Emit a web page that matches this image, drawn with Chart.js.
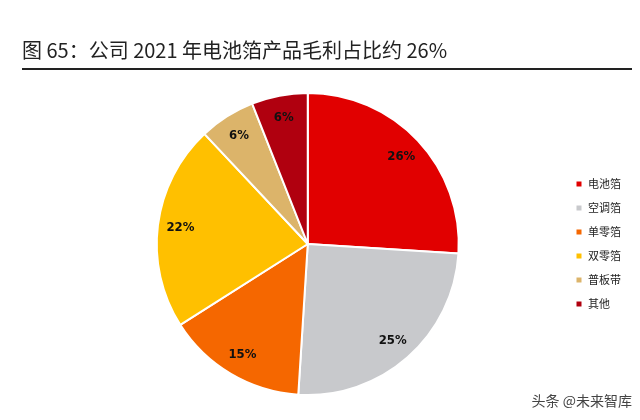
<!DOCTYPE html>
<html>
<head>
<meta charset="utf-8">
<script src="https://cdn.jsdelivr.net/npm/chart.js@4"></script>
<style>
body{margin:0;background:#fff;}
#wrap{width:640px;height:420px;}
</style>
</head>
<body>
<div id="wrap"><canvas id="pie"></canvas></div>
<script>
var titleText = "图 65：公司 2021 年电池箔产品毛利占比约 26%";
var sourceText = "头条 @未来智库";
var categories = ["电池箔", "空调箔", "单零箔", "双零箔", "普板带", "其他"];
var shares = [26, 25, 15, 22, 6, 6];
var colors = ["#e10000", "#c8c9cc", "#f56700", "#ffc000", "#dcb46a", "#b0000f"];

// title, underline, slice labels and watermark
var decor = {
    id: "decor",
    afterDraw: function(chart) {
        var ctx = chart.ctx;
        ctx.save();
        ctx.fillStyle = "#222";
        ctx.font = "20px 'Noto Sans CJK SC', sans-serif";
        ctx.textBaseline = "middle";
        ctx.textAlign = "left";
        ctx.fillText(titleText, 22, 50);
        ctx.fillRect(22, 68, 610, 2);

        var meta = chart.getDatasetMeta(0);
        ctx.font = "bold 13px 'DejaVu Sans Condensed', 'Liberation Sans', sans-serif";
        ctx.textAlign = "center";
        ctx.fillStyle = "#111";
        meta.data.forEach(function(arc, i) {
            var mid = (arc.startAngle + arc.endAngle) / 2;
            var r = arc.outerRadius * 0.85;
            ctx.fillText(shares[i] + "%", arc.x + Math.cos(mid) * r, arc.y + Math.sin(mid) * r);
        });

        ctx.font = "14px 'Noto Sans CJK SC', sans-serif";
        ctx.fillStyle = "#444";
        ctx.textAlign = "right";
        ctx.fillText(sourceText, 632, 401);
        ctx.restore();
    }
};

var ctx = document.getElementById("pie").getContext("2d");
var chart = new Chart(ctx, {
    type: "pie",
    data: {
        labels: categories,
        datasets: [{
            data: shares,
            backgroundColor: colors,
            borderColor: "#ffffff",
            borderWidth: 2
        }]
    },
    options: {
        responsive: true,
        maintainAspectRatio: false,
        animation: false,
        layout: {padding: {top: 92, bottom: 24, left: 53, right: 9}},
        plugins: {
            legend: {
                position: "right",
                labels: {
                    boxWidth: 7,
                    boxHeight: 7,
                    padding: 13,
                    color: "#222",
                    font: {size: 11, family: "'Noto Sans CJK SC', sans-serif"}
                }
            },
            tooltip: {enabled: false}
        }
    },
    plugins: [decor]
});
</script>
</body>
</html>
